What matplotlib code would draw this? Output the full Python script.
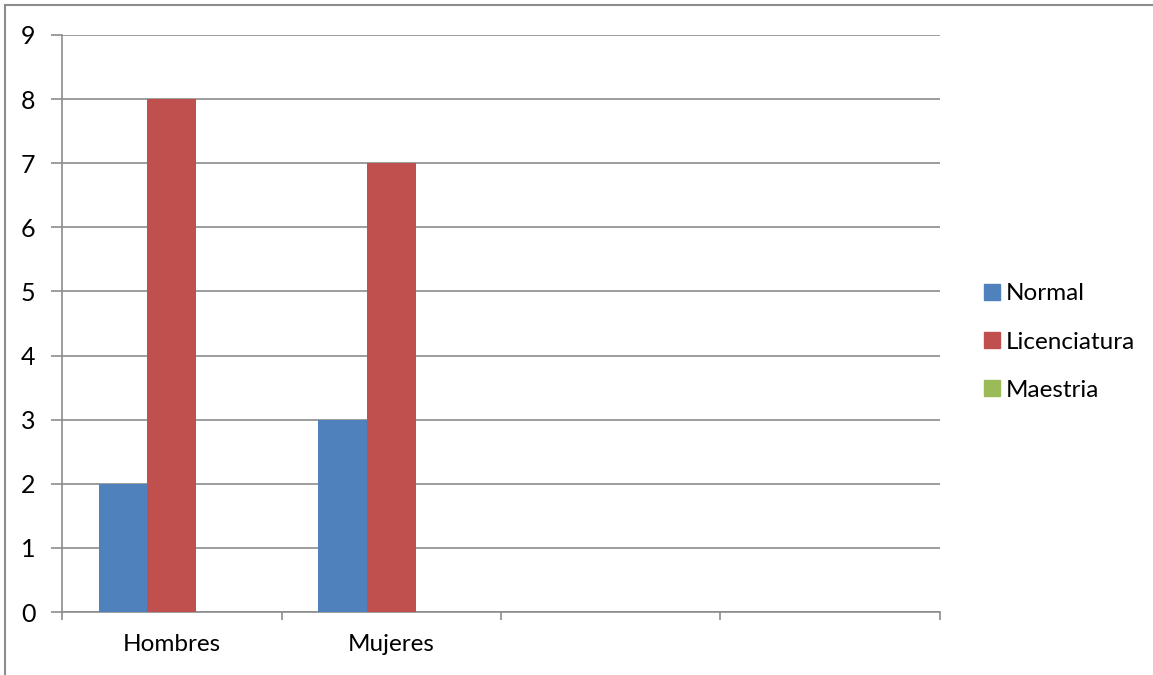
import matplotlib.pyplot as plt
import numpy as np
from matplotlib.lines import Line2D

categories = ["Hombres", "Mujeres", "", ""]
normal = [2, 3, np.nan, np.nan]
licenciatura = [8, 7, np.nan, np.nan]
maestria = [0, 0, np.nan, np.nan]
series_names = ["Normal", "Licenciatura", "Maestria"]
colors = ["#4F81BD", "#C0504D", "#9BBB59"]
y_ticks = list(range(0, 10))

plt.rcParams["font.family"] = ["Lato", "DejaVu Sans"]
grid_gray = "#8C8C8C"

fig = plt.figure(figsize=(11.53, 6.75), dpi=100, facecolor="white")
W, H = 1153, 675
ax = fig.add_axes([62 / W, 63 / H, (940 - 62) / W, (612 - 35) / H])

x = np.arange(len(categories))
width = 1 / 4.5
for k, (vals, name, col) in enumerate(zip([normal, licenciatura, maestria], series_names, colors)):
    ax.bar(x + (k - 1) * width, vals, width, color=col, label=name, linewidth=0, zorder=3)

ax.set_xlim(-0.5, len(categories) - 0.5)
ax.set_ylim(0, 9)
ax.set_yticks(y_ticks)
ax.tick_params(axis="y", length=8, width=1.2, color=grid_gray, labelsize=18, pad=11)
ax.yaxis.grid(True, color=grid_gray, linewidth=1.2, zorder=0)

# category boundaries as major ticks, labels at centers
ax.set_xticks(np.arange(-0.5, len(categories)), minor=False)
ax.set_xticklabels([])
ax.set_xticks(x, minor=True)
ax.set_xticklabels(categories, minor=True)
ax.tick_params(axis="x", which="major", length=6, width=1.2, color=grid_gray, direction="out")
ax.tick_params(axis="x", which="minor", length=0, labelsize=17.5, pad=16)

for s in ("top", "right"):
    ax.spines[s].set_visible(False)
for s in ("left", "bottom"):
    ax.spines[s].set_color(grid_gray)
    ax.spines[s].set_linewidth(1.2)

handles = [plt.Rectangle((0, 0), 1, 1, color=c) for c in colors]
fig.legend(handles, series_names, loc="center left", bbox_to_anchor=(974 / W, 1 - 342 / H),
           frameon=False, fontsize=17.5, handlelength=0.65, handleheight=0.65,
           handletextpad=0.25, labelspacing=1.12, borderaxespad=0)

# outer chart border (left and top edges visible)
fig.add_artist(Line2D([5 / W, 5 / W], [0, 1 - 5 / H], transform=fig.transFigure, color=grid_gray, lw=1.5))
fig.add_artist(Line2D([5 / W, 1], [1 - 5 / H, 1 - 5 / H], transform=fig.transFigure, color=grid_gray, lw=1.5))

fig.savefig("out.png", dpi=100, facecolor="white")
